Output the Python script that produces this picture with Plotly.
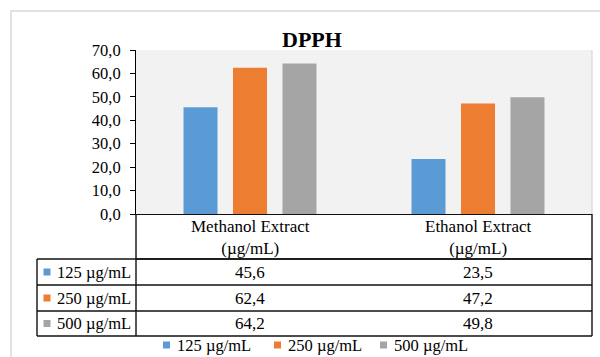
import plotly.graph_objects as go

# ---------------- data ----------------
categories = ["Methanol Extract", "Ethanol Extract"]
category_labels = ["Methanol Extract<br>(µg/mL)", "Ethanol Extract<br>(µg/mL)"]
series_names = ["125 µg/mL", "250 µg/mL", "500 µg/mL"]
values_125 = [45.6, 23.5]
values_250 = [62.4, 47.2]
values_500 = [64.2, 49.8]
series_values = [values_125, values_250, values_500]
colors = ["#5B9BD5", "#ED7D31", "#A5A5A5"]
title_text = "DPPH"

# ---------------- layout geometry (pixels) ----------------
W, H = 600, 357
L, R, T, B = 136, 592, 50, 214
FONT = "'Liberation Serif', 'Times New Roman', serif"


def px(x):
    return (x - L) / (R - L)


def py(y):
    return (B - y) / (B - T)


fig = go.Figure()
for name, vals, col in zip(series_names, series_values, colors):
    fig.add_trace(go.Bar(x=categories, y=vals, name=name, marker_color=col,
                         marker_line_width=0, showlegend=False))

shapes = []
annotations = []

# outer chart border
shapes.append(dict(type="rect", xref="paper", yref="paper",
                   x0=px(11), x1=px(640), y0=py(11), y1=py(400),
                   line=dict(color="#d9d9d9", width=1.5), layer="below"))
# right edge of plot area
shapes.append(dict(type="line", xref="paper", yref="paper",
                   x0=px(592), x1=px(592), y0=py(T), y1=py(B),
                   line=dict(color="#d0d0d0", width=1)))

# data table lines
line_style = dict(color="#111111", width=1.4)
shapes.append(dict(type="line", xref="paper", yref="paper",
                   x0=px(136), x1=px(592), y0=py(259), y1=py(259), line=line_style))
for yl in [259, 285, 311, 336]:
    shapes.append(dict(type="line", xref="paper", yref="paper",
                       x0=px(37), x1=px(592), y0=py(yl), y1=py(yl), line=line_style))
shapes.append(dict(type="line", xref="paper", yref="paper",
                   x0=px(37), x1=px(37), y0=py(259), y1=py(336), line=line_style))
shapes.append(dict(type="line", xref="paper", yref="paper",
                   x0=px(136), x1=px(136), y0=py(214), y1=py(336), line=line_style))
shapes.append(dict(type="line", xref="paper", yref="paper",
                   x0=px(592), x1=px(592), y0=py(214), y1=py(336), line=line_style))

# title
annotations.append(dict(text="<b>" + title_text + "</b>", xref="paper", yref="paper",
                        x=px(312), y=py(40), xanchor="center", yanchor="middle",
                        showarrow=False, font=dict(family=FONT, size=22, color="black")))

# category header
for cat, lab in zip(categories, category_labels):
    annotations.append(dict(text=lab, xref="x", yref="paper", x=cat, y=py(237.5),
                            xanchor="center", yanchor="middle", showarrow=False,
                            font=dict(family=FONT, size=17, color="black")))

# rows
row_centers = [272, 298, 323.5]
for i, (name, vals, col) in enumerate(zip(series_names, series_values, colors)):
    yc = row_centers[i]
    shapes.append(dict(type="rect", xref="paper", yref="paper",
                       x0=px(43.5), x1=px(50.5), y0=py(yc - 3.5), y1=py(yc + 3.5),
                       fillcolor=col, line=dict(width=0)))
    annotations.append(dict(text=name, xref="paper", yref="paper", x=px(133), y=py(yc),
                            xanchor="right", yanchor="middle", showarrow=False,
                            font=dict(family=FONT, size=16.5, color="black")))
    for cat, v in zip(categories, vals):
        annotations.append(dict(text=f"{v:.1f}".replace(".", ","), xref="x", yref="paper",
                                x=cat, y=py(yc), xanchor="center", yanchor="middle",
                                showarrow=False,
                                font=dict(family=FONT, size=17, color="black")))

# bottom legend
legend_x = [163, 274, 380]
for name, col, lx in zip(series_names, colors, legend_x):
    shapes.append(dict(type="rect", xref="paper", yref="paper",
                       x0=px(lx), x1=px(lx + 7), y0=py(341.5), y1=py(348.5),
                       fillcolor=col, line=dict(width=0)))
    annotations.append(dict(text=name, xref="paper", yref="paper", x=px(lx + 12), y=py(345),
                            xanchor="left", yanchor="middle", showarrow=False,
                            font=dict(family=FONT, size=16.5, color="black")))

fig.update_layout(
    width=W, height=H,
    margin=dict(l=L, r=W - R, t=T, b=H - B),
    paper_bgcolor="white",
    plot_bgcolor="#f2f2f2",
    barmode="group",
    bargap=0.349,
    bargroupgap=0.313,
    separators=", ",
    showlegend=False,
    shapes=shapes,
    annotations=annotations,
    font=dict(family=FONT, size=16, color="black"),
)
fig.update_yaxes(range=[0, 70], dtick=10, tickformat=".1f", showgrid=False,
                 showline=True, linecolor="black", linewidth=1,
                 ticks="outside", ticklen=5, tickcolor="black",
                 ticklabelstandoff=6,
                 tickfont=dict(family=FONT, size=16.5, color="black"), zeroline=False)
fig.update_xaxes(showticklabels=False, showgrid=False, showline=True,
                 linecolor="#111111", linewidth=1.4, ticks="")

fig.write_html("out.html")
